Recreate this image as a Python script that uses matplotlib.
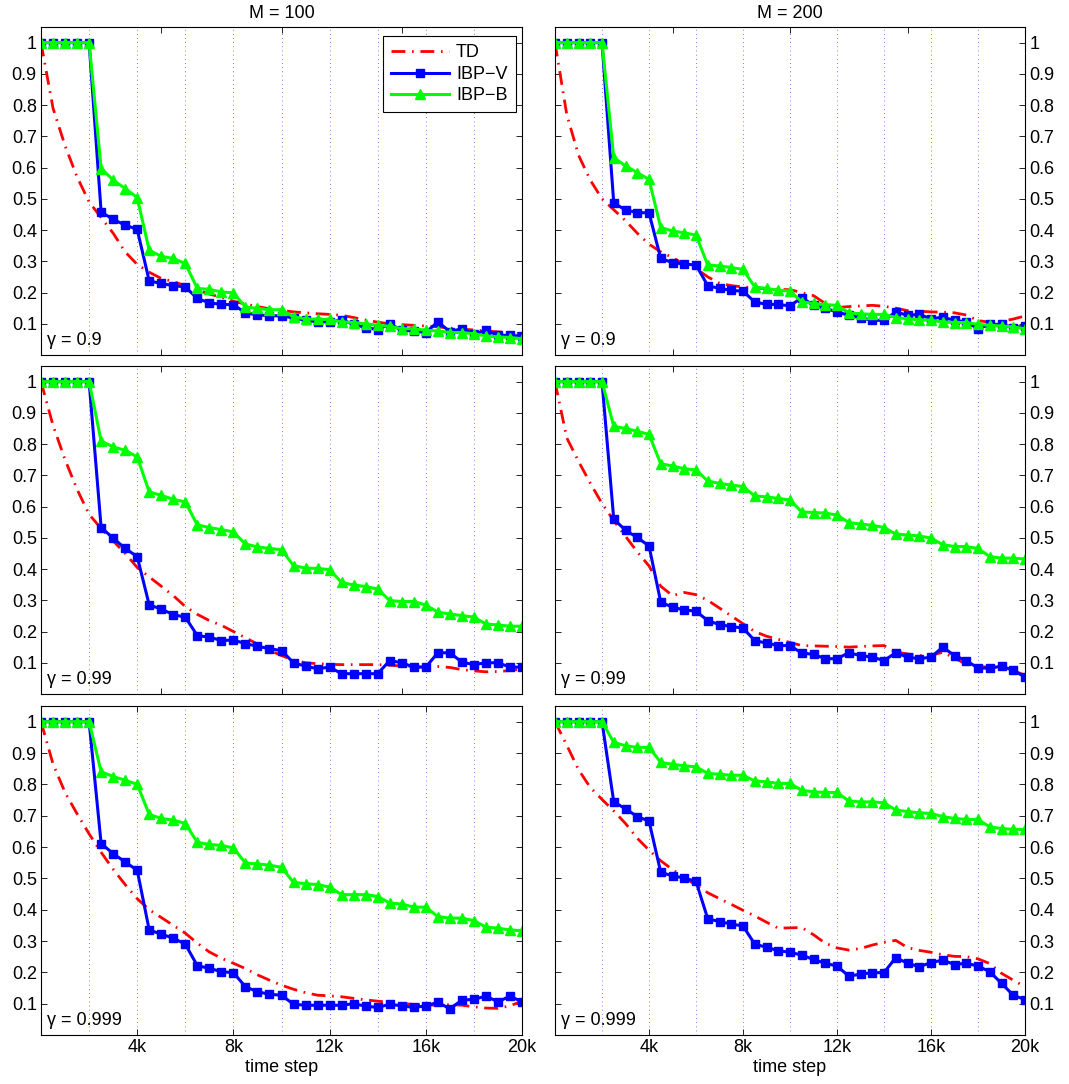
import numpy as np
import matplotlib
matplotlib.use("Agg")
import matplotlib.pyplot as plt

plt.rcParams['font.family'] = ['Liberation Sans', 'DejaVu Sans']
plt.rcParams['font.size'] = 13

# sample points every 500 time steps
steps = np.arange(41) * 500

# M = 100, gamma = 0.9
td_100_a = [1.0, 0.79, 0.67, 0.57, 0.49, 0.44, 0.39, 0.33, 0.29, 0.265, 0.245, 0.235, 0.222, 0.208,
            0.195, 0.185, 0.172, 0.163, 0.155, 0.148, 0.143, 0.138, 0.135, 0.132, 0.130, 0.127, 0.120,
            0.112, 0.105, 0.100, 0.097, 0.095, 0.093, 0.090, 0.086, 0.083, 0.080, 0.077, 0.074, 0.071, 0.068]
ibpv_100_a = [1, 1, 1, 1, 1, 0.458, 0.434, 0.416, 0.402, 0.237, 0.229, 0.222, 0.218, 0.181, 0.167,
              0.162, 0.161, 0.135, 0.128, 0.126, 0.125, 0.119, 0.111, 0.106, 0.106, 0.113, 0.098, 0.088,
              0.081, 0.100, 0.079, 0.077, 0.072, 0.106, 0.075, 0.084, 0.066, 0.079, 0.063, 0.063, 0.060]
ibpb_100_a = [1, 1, 1, 1, 1, 0.597, 0.560, 0.533, 0.504, 0.335, 0.316, 0.309, 0.293, 0.213, 0.210,
              0.202, 0.199, 0.154, 0.149, 0.145, 0.145, 0.122, 0.116, 0.114, 0.114, 0.106, 0.104, 0.100,
              0.095, 0.092, 0.084, 0.084, 0.079, 0.077, 0.072, 0.072, 0.068, 0.061, 0.058, 0.056, 0.052]

# M = 200, gamma = 0.9
td_200_a = [1.0, 0.77, 0.64, 0.56, 0.50, 0.465, 0.43, 0.39, 0.355, 0.33, 0.312, 0.29, 0.277, 0.25,
            0.23, 0.222, 0.218, 0.215, 0.212, 0.21, 0.209, 0.20, 0.19, 0.165, 0.152, 0.155, 0.157,
            0.159, 0.156, 0.15, 0.142, 0.14, 0.138, 0.137, 0.135, 0.128, 0.11, 0.105, 0.108, 0.115, 0.125]
ibpv_200_a = [1, 1, 1, 1, 1, 0.487, 0.464, 0.456, 0.455, 0.309, 0.296, 0.291, 0.288, 0.222, 0.213,
              0.207, 0.204, 0.170, 0.162, 0.162, 0.157, 0.184, 0.159, 0.149, 0.138, 0.127, 0.119, 0.111,
              0.111, 0.138, 0.127, 0.130, 0.116, 0.121, 0.111, 0.106, 0.084, 0.098, 0.098, 0.088, 0.092]
ibpb_200_a = [1, 1, 1, 1, 1, 0.632, 0.605, 0.584, 0.562, 0.408, 0.397, 0.391, 0.384, 0.288, 0.285,
              0.280, 0.274, 0.218, 0.213, 0.207, 0.205, 0.170, 0.165, 0.161, 0.159, 0.135, 0.132, 0.130,
              0.130, 0.120, 0.116, 0.113, 0.111, 0.106, 0.104, 0.104, 0.098, 0.095, 0.093, 0.090, 0.084]

# M = 100, gamma = 0.99
td_100_b = [1.0, 0.86, 0.75, 0.655, 0.575, 0.53, 0.49, 0.45, 0.405, 0.375, 0.345, 0.315, 0.28, 0.255,
            0.235, 0.22, 0.20, 0.18, 0.16, 0.14, 0.123, 0.108, 0.10, 0.097, 0.095, 0.094, 0.094, 0.094,
            0.094, 0.092, 0.09, 0.088, 0.086, 0.088, 0.085, 0.078, 0.074, 0.071, 0.072, 0.075, 0.08]
ibpv_100_b = [1, 1, 1, 1, 1, 0.533, 0.499, 0.466, 0.440, 0.285, 0.272, 0.254, 0.246, 0.187, 0.182,
              0.171, 0.173, 0.161, 0.153, 0.145, 0.139, 0.100, 0.089, 0.081, 0.086, 0.065, 0.065, 0.065,
              0.065, 0.107, 0.100, 0.086, 0.086, 0.132, 0.132, 0.102, 0.094, 0.100, 0.100, 0.086, 0.086]
ibpb_100_b = [1, 1, 1, 1, 1, 0.810, 0.791, 0.780, 0.759, 0.647, 0.636, 0.623, 0.615, 0.541, 0.533,
              0.526, 0.519, 0.480, 0.471, 0.466, 0.462, 0.411, 0.403, 0.402, 0.398, 0.357, 0.349, 0.344,
              0.336, 0.299, 0.296, 0.296, 0.285, 0.262, 0.256, 0.251, 0.246, 0.224, 0.221, 0.217, 0.217]

# M = 200, gamma = 0.99
td_200_b = [1.0, 0.82, 0.745, 0.675, 0.61, 0.555, 0.505, 0.455, 0.41, 0.345, 0.315, 0.325, 0.318, 0.30,
            0.275, 0.25, 0.225, 0.20, 0.185, 0.175, 0.165, 0.155, 0.154, 0.153, 0.152, 0.150, 0.152,
            0.154, 0.155, 0.135, 0.128, 0.123, 0.123, 0.134, 0.115, 0.095, 0.088, 0.086, 0.085, 0.075, 0.06]
ibpv_200_b = [1, 1, 1, 1, 1, 0.560, 0.524, 0.501, 0.474, 0.294, 0.278, 0.269, 0.265, 0.235, 0.222,
              0.216, 0.211, 0.171, 0.163, 0.155, 0.155, 0.131, 0.127, 0.113, 0.113, 0.132, 0.123, 0.118,
              0.107, 0.132, 0.118, 0.113, 0.118, 0.150, 0.123, 0.107, 0.083, 0.083, 0.089, 0.076, 0.054]
ibpb_200_b = [1, 1, 1, 1, 1, 0.857, 0.850, 0.841, 0.831, 0.737, 0.730, 0.721, 0.717, 0.682, 0.674,
              0.669, 0.664, 0.634, 0.631, 0.626, 0.621, 0.583, 0.581, 0.579, 0.573, 0.549, 0.544, 0.540,
              0.533, 0.512, 0.509, 0.506, 0.499, 0.478, 0.472, 0.472, 0.466, 0.440, 0.435, 0.435, 0.432]

# M = 100, gamma = 0.999
td_100_c = [1.0, 0.865, 0.774, 0.706, 0.642, 0.583, 0.529, 0.48, 0.435, 0.40, 0.375, 0.35, 0.325,
            0.293, 0.265, 0.245, 0.229, 0.212, 0.192, 0.175, 0.159, 0.146, 0.135, 0.127, 0.125, 0.122,
            0.117, 0.112, 0.108, 0.104, 0.10, 0.098, 0.096, 0.095, 0.097, 0.095, 0.09, 0.086, 0.085, 0.093, 0.108]
ibpv_100_c = [1, 1, 1, 1, 1, 0.611, 0.579, 0.552, 0.526, 0.335, 0.322, 0.309, 0.290, 0.221, 0.213,
              0.202, 0.199, 0.154, 0.138, 0.130, 0.127, 0.098, 0.095, 0.095, 0.095, 0.095, 0.100, 0.092,
              0.088, 0.098, 0.093, 0.088, 0.093, 0.104, 0.084, 0.111, 0.114, 0.124, 0.106, 0.124, 0.106]
ibpb_100_c = [1, 1, 1, 1, 1, 0.840, 0.825, 0.813, 0.800, 0.704, 0.691, 0.686, 0.675, 0.615, 0.608,
              0.605, 0.597, 0.549, 0.546, 0.542, 0.535, 0.487, 0.483, 0.480, 0.472, 0.448, 0.448, 0.448,
              0.442, 0.421, 0.418, 0.408, 0.408, 0.378, 0.373, 0.373, 0.365, 0.344, 0.341, 0.335, 0.333]

# M = 200, gamma = 0.999
td_200_c = [1.0, 0.925, 0.847, 0.79, 0.752, 0.715, 0.675, 0.628, 0.59, 0.556, 0.528, 0.503, 0.478,
            0.454, 0.435, 0.417, 0.398, 0.38, 0.36, 0.341, 0.342, 0.343, 0.32, 0.293, 0.278, 0.271,
            0.276, 0.287, 0.296, 0.302, 0.279, 0.27, 0.264, 0.256, 0.251, 0.25, 0.243, 0.228, 0.197, 0.175, 0.154]
ibpv_200_c = [1, 1, 1, 1, 1, 0.744, 0.722, 0.697, 0.683, 0.519, 0.508, 0.501, 0.490, 0.371, 0.362,
              0.354, 0.348, 0.290, 0.280, 0.269, 0.264, 0.255, 0.241, 0.229, 0.220, 0.188, 0.194, 0.199,
              0.199, 0.247, 0.229, 0.218, 0.231, 0.239, 0.225, 0.229, 0.220, 0.202, 0.165, 0.127, 0.113]
ibpb_200_c = [1, 1, 1, 1, 1, 0.934, 0.923, 0.918, 0.918, 0.870, 0.864, 0.859, 0.856, 0.835, 0.832,
              0.829, 0.829, 0.811, 0.808, 0.803, 0.803, 0.781, 0.776, 0.774, 0.774, 0.747, 0.744, 0.744,
              0.741, 0.718, 0.713, 0.709, 0.707, 0.697, 0.691, 0.688, 0.688, 0.664, 0.659, 0.656, 0.656]

gammas = ['0.9', '0.99', '0.999']
columns = ['M = 100', 'M = 200']
panels = [
    [(td_100_a, ibpv_100_a, ibpb_100_a), (td_200_a, ibpv_200_a, ibpb_200_a)],
    [(td_100_b, ibpv_100_b, ibpb_100_b), (td_200_b, ibpv_200_b, ibpb_200_b)],
    [(td_100_c, ibpv_100_c, ibpb_100_c), (td_200_c, ibpv_200_c, ibpb_200_c)],
]
yticks = [0.1, 0.2, 0.3, 0.4, 0.5, 0.6, 0.7, 0.8, 0.9, 1.0]
ylabels = ['0.1', '0.2', '0.3', '0.4', '0.5', '0.6', '0.7', '0.8', '0.9', '1']
xticks_bottom = [4000, 8000, 12000, 16000, 20000]
xlabels_bottom = ['4k', '8k', '12k', '16k', '20k']
xticks_other = [0, 5000, 10000, 15000, 20000]

W, H = 1069, 1084
fig = plt.figure(figsize=(W / 100, H / 100), dpi=100)

# pixel boxes for the columns and rows
col_px = [(41, 522), (555, 1025)]
row_px = [(27, 355), (366, 694), (706, 1035)]


def draw_panel(ax, data, row, col):
    td, v, b = data
    for xv in range(2000, 20000, 2000):
        ax.axvline(xv, color='blue', lw=0.5, ls=(0, (1, 5)), zorder=0)
    ax.plot(steps, td, color='red', lw=2, ls=(0, (5, 2.4, 0.6, 2.4)), label='TD')
    ax.plot(steps, v, color='blue', lw=2.2, marker='s', ms=6.3, label='IBP\u2212V')
    ax.plot(steps, b, color=(0, 1, 0), lw=2.2, marker='^', ms=6.8, label='IBP\u2212B')
    ax.set_xlim(0, 20000)
    ax.set_ylim(0, 1.05)
    ax.set_yticks(yticks)
    ax.set_yticklabels(ylabels)
    if row == 2:
        ax.set_xticks(xticks_bottom)
        ax.set_xticklabels(xlabels_bottom)
        ax.set_xlabel('time step', labelpad=2)
    else:
        ax.set_xticks(xticks_other)
        ax.set_xticklabels([])
    ax.tick_params(direction='in', top=True, right=True, length=4, width=0.6, pad=3)
    if col == 1:
        ax.tick_params(labelleft=False, labelright=True)
    for s in ax.spines.values():
        s.set_linewidth(0.8)
    ax.text(0.012, 0.018, '\u03b3 = ' + gammas[row], transform=ax.transAxes,
            ha='left', va='bottom')
    if row == 0 and col == 0:
        ax.legend(loc='upper right', bbox_to_anchor=(0.987, 0.972), borderaxespad=0,
                  handlelength=3.2, labelspacing=0.25, fancybox=False, edgecolor='black',
                  framealpha=1, borderpad=0.45, handletextpad=0.4)
        ax.get_legend().get_frame().set_linewidth(0.8)


for r in range(3):
    for c in range(2):
        x0, x1 = col_px[c]
        y0, y1 = row_px[r]
        ax = fig.add_axes([x0 / W, 1 - y1 / H, (x1 - x0) / W, (y1 - y0) / H])
        draw_panel(ax, panels[r][c], r, c)

for c in range(2):
    x0, x1 = col_px[c]
    fig.text((x0 + x1) / 2 / W, 1 - 14 / H, columns[c], ha='center', va='center')

fig.savefig('out.png', dpi=100)
